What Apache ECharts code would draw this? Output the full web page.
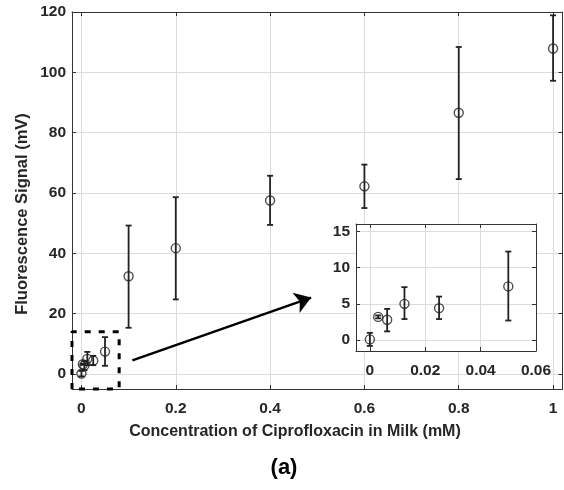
<!DOCTYPE html>
<html>
<head>
<meta charset="utf-8">
<script src="https://cdn.jsdelivr.net/npm/echarts@6/dist/echarts.min.js"></script>
<style>html,body{margin:0;padding:0;background:#fff;}#c{width:564px;height:490px;}</style>
</head>
<body>
<div id="c"></div>
<script>
// ---- data ----
const mainX = [0.1, 0.2, 0.4, 0.6, 0.8, 1.0];
const mainY = [32.4, 41.7, 57.5, 62.2, 86.6, 107.9];
const mainLow = [15.3, 24.7, 49.4, 55.0, 64.6, 97.2];
const mainHigh = [49.2, 58.6, 65.7, 69.4, 108.4, 118.9];

const lowX = [0, 0.003, 0.00625, 0.0125, 0.025, 0.05];
const lowY = [0.1, 3.2, 2.8, 5.0, 4.4, 7.4];
const lowLow = [-0.8, 3.0, 1.2, 2.9, 2.9, 2.7];
const lowHigh = [1.0, 3.4, 4.3, 7.3, 6.0, 12.2];

const xTicks = [0, 0.2, 0.4, 0.6, 0.8, 1];
const yTicks = [0, 20, 40, 60, 80, 100, 120];
const insetXTicks = [0, 0.02, 0.04, 0.06];
const insetYTicks = [0, 5, 10, 15];

const boxX = [-0.02, 0.08];
const boxY = [-5, 14];
const arrowFrom = [0.108, 4.5];
const arrowTo = [0.487, 25.3];

const xTitle = 'Concentration of Ciprofloxacin in Milk (mM)';
const yTitle = 'Fluorescence Signal (mV)';
const panelLabel = '(a)';

// ---- build ----
const FONT = '"Liberation Sans", Arial, sans-serif';
const TXT = '#262626';
const pts = (xs, ys) => xs.map((x, i) => [x, ys[i]]);
const errs = (xs, ys, lo, hi) => xs.map((x, i) => [x, ys[i], lo[i], hi[i]]);

function errRender(params, api) {
  const x = api.value(0), lo = api.value(2), hi = api.value(3);
  const p1 = api.coord([x, hi]), p2 = api.coord([x, lo]);
  const w = 3;
  const st = { stroke: '#222', lineWidth: 1.8 };
  return { type: 'group', children: [
    { type: 'line', shape: { x1: p1[0], y1: p1[1], x2: p2[0], y2: p2[1] }, style: st },
    { type: 'line', shape: { x1: p1[0] - w, y1: p1[1], x2: p1[0] + w, y2: p1[1] }, style: st },
    { type: 'line', shape: { x1: p2[0] - w, y1: p2[1], x2: p2[0] + w, y2: p2[1] }, style: st }
  ]};
}

const lbl = { color: TXT, fontFamily: FONT, fontWeight: 'bold', fontSize: 15.5 };
const gridLine = { show: true, lineStyle: { color: '#dcdcdc', width: 1 } };
const axLine = { show: true, onZero: false, lineStyle: { color: '#333', width: 1 } };

function mkX(gridIndex, min, max, ticks, pos, showLabel, z) {
  return {
    type: 'value', gridIndex, min, max, position: pos, z,
    axisLine: axLine,
    axisTick: { show: true, inside: true, length: 4, customValues: ticks, lineStyle: { color: '#333' } },
    axisLabel: showLabel ? Object.assign({ customValues: ticks, margin: 12, formatter: v => String(v) }, lbl) : { show: false },
    splitLine: showLabel ? gridLine : { show: false }
  };
}
function mkY(gridIndex, min, max, ticks, pos, showLabel, z) {
  return {
    type: 'value', gridIndex, min, max, position: pos, z,
    axisLine: axLine,
    axisTick: { show: true, inside: true, length: 4, customValues: ticks, lineStyle: { color: '#333' } },
    axisLabel: showLabel ? Object.assign({ customValues: ticks, margin: 6, formatter: v => String(v) }, lbl) : { show: false },
    splitLine: showLabel ? gridLine : { show: false }
  };
}

const option = {
  animation: false,
  backgroundColor: '#fff',
  grid: [
    { left: 72, top: 12, right: 1.5, bottom: 101, containLabel: false },
    { left: 356, top: 224, width: 180, height: 127, show: true, backgroundColor: '#fff', borderWidth: 0, z: 10 }
  ],
  xAxis: [
    mkX(0, -0.02, 1.02, xTicks, 'bottom', true, 1),
    mkX(0, -0.02, 1.02, xTicks, 'top', false, 1),
    mkX(1, -0.005, 0.06, insetXTicks, 'bottom', true, 11),
    mkX(1, -0.005, 0.06, insetXTicks, 'top', false, 11)
  ],
  yAxis: [
    mkY(0, -5, 120, yTicks, 'left', true, 1),
    mkY(0, -5, 120, yTicks, 'right', false, 1),
    mkY(1, -1.5, 16, insetYTicks, 'left', true, 11),
    mkY(1, -1.5, 16, insetYTicks, 'right', false, 11)
  ],
  graphic: [
    { type: 'text', x: 295, y: 432, style: { text: xTitle, fill: TXT, font: 'bold 16px ' + FONT, textAlign: 'center', textVerticalAlign: 'middle' } },
    { type: 'text', x: 22, y: 214, rotation: Math.PI / 2, style: { text: yTitle, fill: TXT, font: 'bold 16.5px ' + FONT, textAlign: 'center', textVerticalAlign: 'middle' } },
    { type: 'text', x: 284, y: 468, style: { text: panelLabel, fill: '#000', font: 'bold 22px ' + FONT, textAlign: 'center', textVerticalAlign: 'middle' } }
  ],
  series: [
    { type: 'custom', xAxisIndex: 0, yAxisIndex: 0, renderItem: errRender, data: errs(mainX, mainY, mainLow, mainHigh), z: 3 },
    { type: 'custom', xAxisIndex: 0, yAxisIndex: 0, renderItem: errRender, data: errs(lowX, lowY, lowLow, lowHigh), z: 3 },
    { type: 'scatter', xAxisIndex: 0, yAxisIndex: 0, symbol: 'circle', symbolSize: 9,
      itemStyle: { color: 'rgba(0,0,0,0)', borderColor: '#222', borderWidth: 1.4 }, data: pts(mainX.concat(lowX), mainY.concat(lowY)), z: 4 },
    { type: 'line', xAxisIndex: 0, yAxisIndex: 0, clip: false, symbol: 'none', z: 5,
      lineStyle: { color: '#000', width: 3, type: [6, 8] },
      data: [[boxX[0], boxY[0]], [boxX[0], boxY[1]], [boxX[1], boxY[1]], [boxX[1], boxY[0]], [boxX[0], boxY[0]]] },
    { type: 'lines', coordinateSystem: 'cartesian2d', xAxisIndex: 0, yAxisIndex: 0, z: 5,
      symbol: ['none', 'arrow'], symbolSize: 16,
      lineStyle: { color: '#000', width: 2.5, opacity: 1 },
      data: [{ coords: [arrowFrom, arrowTo] }] },
    { type: 'custom', xAxisIndex: 2, yAxisIndex: 2, renderItem: errRender, data: errs(lowX, lowY, lowLow, lowHigh), z: 12 },
    { type: 'scatter', xAxisIndex: 2, yAxisIndex: 2, symbol: 'circle', symbolSize: 9,
      itemStyle: { color: 'rgba(0,0,0,0)', borderColor: '#222', borderWidth: 1.4 }, data: pts(lowX, lowY), z: 13 }
  ]
};
const chart = echarts.init(document.getElementById('c'), null, { renderer: 'canvas' });
chart.setOption(option);
</script>
</body>
</html>
